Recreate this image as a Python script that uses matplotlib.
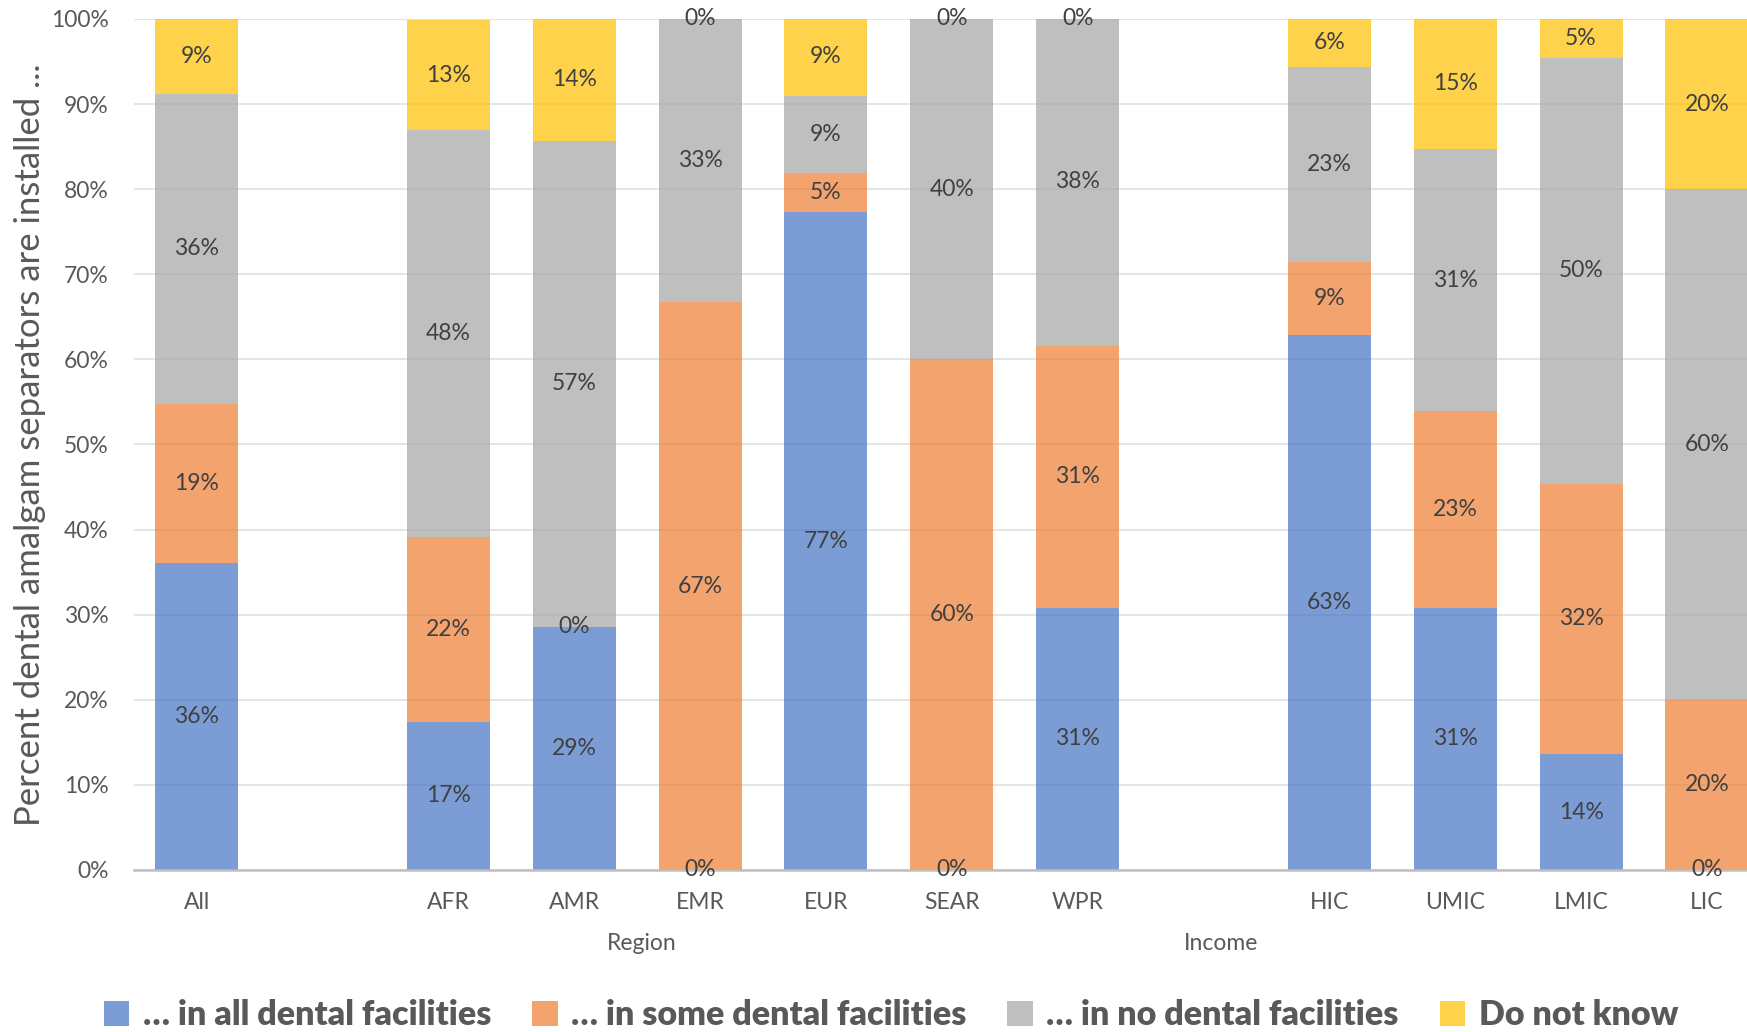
import matplotlib
matplotlib.use("Agg")
import matplotlib.pyplot as plt
from matplotlib.patches import Patch
from matplotlib import transforms

plt.rcParams['font.family'] = ['Lato', 'DejaVu Sans']

# slots: All, gap, six WHO regions, gap, four income groups
categories = ['All', '', 'AFR', 'AMR', 'EMR', 'EUR', 'SEAR', 'WPR', '', 'HIC', 'UMIC', 'LMIC', 'LIC']
has_bar = [True, False, True, True, True, True, True, True, False, True, True, True, True]

all_fac = [36.1, 0, 17.4, 28.6, 0.0, 77.3, 0.0, 30.8, 0, 62.9, 30.8, 13.6, 0.0]
some_fac = [18.7, 0, 21.7, 0.0, 66.7, 4.6, 60.0, 30.8, 0, 8.6, 23.1, 31.8, 20.0]
no_fac = [36.4, 0, 47.8, 57.1, 33.3, 9.1, 40.0, 38.5, 0, 22.9, 30.8, 50.0, 60.0]
dont_know = [8.8, 0, 13.0, 14.3, 0.0, 9.1, 0.0, 0.0, 0, 5.7, 15.4, 4.6, 20.0]

series = [all_fac, some_fac, no_fac, dont_know]
series_names = ['… in all dental facilities', '… in some dental facilities',
                '… in no dental facilities', 'Do not know']
colors = ['#4472C4', '#ED7D31', '#A5A5A5', '#FFC000']

groups = ['Region', 'Income']
group_x = [3.54, 8.14]

fig = plt.figure(figsize=(17.47, 10.32), dpi=100)
ax = fig.add_axes([0.0765, 0.157, 0.9366, 0.8246])

x = [i for i in range(len(categories))]
bottoms = [0.0] * len(categories)
for vals, col in zip(series, colors):
    xs = [i for i in x if has_bar[i]]
    hs = [vals[i] for i in xs]
    bs = [bottoms[i] for i in xs]
    ax.bar(xs, hs, bottom=bs, width=0.66, color=col, alpha=0.7, linewidth=0, zorder=2)
    for i, h, b in zip(xs, hs, bs):
        ax.text(i, b + h / 2, '%.0f%%' % h, ha='center', va='center',
                fontsize=16.5, color='#404040', zorder=4)
    for i in xs:
        bottoms[i] += vals[i]

ax.set_xlim(-0.5, 12.5)
ax.set_ylim(0, 100)
ax.set_yticks(range(0, 101, 10))
ax.set_yticklabels(['%d%%' % v for v in range(0, 101, 10)])
ax.set_xticks(x)
ax.set_xticklabels(categories)
ax.tick_params(axis='both', length=0, labelsize=16.5, labelcolor='#595959')
ax.tick_params(axis='x', pad=16)
ax.tick_params(axis='y', pad=18)
ax.yaxis.grid(True, color='#E3E3E3', linewidth=1.3, zorder=0)
ax.set_axisbelow(True)
for side in ['top', 'right', 'left']:
    ax.spines[side].set_visible(False)
ax.spines['bottom'].set_color('#BFBFBF')
ax.spines['bottom'].set_linewidth(1.8)
ax.spines['bottom'].set_zorder(3)

trans = transforms.blended_transform_factory(ax.transData, fig.transFigure)
for g, gx in zip(groups, group_x):
    ax.text(gx, 1 - 943 / 1032, g, transform=trans, ha='center', va='center',
            fontsize=16.5, color='#595959')

fig.text(0.017, 0.569, 'Percent dental amalgam separators are installed ...',
         rotation=90, ha='center', va='center', fontsize=25, color='#595959')

handles = [Patch(facecolor=c, alpha=0.7, edgecolor='none') for c in colors]
leg = fig.legend(handles, series_names, loc='center', bbox_to_anchor=(0.51, 1 - 1015 / 1032),
                 ncol=4, frameon=False, fontsize=24.5, handlelength=0.75, handleheight=0.75,
                 handletextpad=0.4, columnspacing=1.2)
for t in leg.get_texts():
    t.set_color('#595959')
    t.set_fontweight('heavy')

fig.savefig('out.png', dpi=100)
